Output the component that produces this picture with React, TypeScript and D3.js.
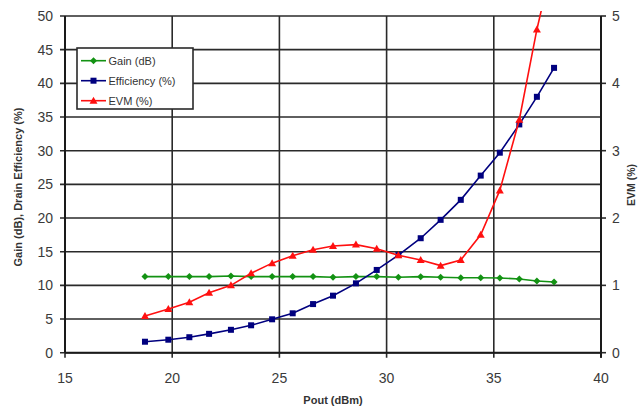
import React from "react";
import * as d3 from "d3";

const pout = [18.73, 19.82, 20.8, 21.72, 22.74, 23.68, 24.66, 25.62, 26.57, 27.5, 28.57, 29.54, 30.55, 31.59, 32.52, 33.46, 34.39, 35.28, 36.19, 37.01, 37.81];
const gain = [11.3, 11.3, 11.3, 11.3, 11.4, 11.3, 11.3, 11.3, 11.3, 11.2, 11.3, 11.3, 11.2, 11.29, 11.2, 11.14, 11.14, 11.1, 10.95, 10.65, 10.5];
const efficiency = [1.63, 1.93, 2.3, 2.8, 3.4, 4.07, 4.96, 5.85, 7.22, 8.47, 10.3, 12.29, 14.5, 17.0, 19.73, 22.7, 26.3, 29.7, 33.9, 38.0, 42.3];
const evm = [0.545, 0.65, 0.75, 0.89, 1.0, 1.18, 1.33, 1.44, 1.53, 1.585, 1.605, 1.545, 1.447, 1.377, 1.293, 1.377, 1.75, 2.41, 3.46, 4.8, 5.9];

const xTicks = [15, 20, 25, 30, 35, 40];
const yTicks = [0, 5, 10, 15, 20, 25, 30, 35, 40, 45, 50];
const y2Ticks = [0, 1, 2, 3, 4, 5];

const legendItems = [
  { label: "Gain (dB)", color: "#139213", shape: "diamond" },
  { label: "Efficiency (%)", color: "#00007f", shape: "square" },
  { label: "EVM (%)", color: "#ff1010", shape: "triangle" },
];

const L = 65, R = 601, T = 16, B = 352.7;
const font = "Liberation Sans, Arial, sans-serif";

function Marker({ shape, x, y, color }: { shape: string; x: number; y: number; color: string }) {
  if (shape === "square") return <rect x={x - 3} y={y - 3} width={6} height={6} fill={color} />;
  if (shape === "diamond") return <path d={`M${x},${y - 3.5}L${x + 3.5},${y}L${x},${y + 3.5}L${x - 3.5},${y}Z`} fill={color} />;
  return <path d={`M${x},${y - 4}L${x + 4},${y + 3}L${x - 4},${y + 3}Z`} fill={color} />;
}

export default function App() {
  const x = d3.scaleLinear().domain([15, 40]).range([L, R]);
  const y = d3.scaleLinear().domain([0, 50]).range([B, T]);
  const y2 = d3.scaleLinear().domain([0, 5]).range([B, T]);

  const lineY = d3.line<number>().x((_, i) => x(pout[i])).y((d) => y(d));
  const lineY2 = d3.line<number>().x((_, i) => x(pout[i])).y((d) => y2(d));

  const series = [
    { data: gain, path: lineY(gain), sc: y, ...legendItems[0] },
    { data: efficiency, path: lineY(efficiency), sc: y, ...legendItems[1] },
    { data: evm, path: lineY2(evm), sc: y2, ...legendItems[2] },
  ];

  return (
    <svg width={639} height={411} style={{ position: "fixed", left: 0, top: 0, background: "#fff" }}>
      <defs>
        <clipPath id="plotclip">
          <rect x={L} y={T - 5} width={R - L} height={B - T + 5} />
        </clipPath>
      </defs>
      <rect x={0} y={0} width={639} height={411} fill="#fff" />
      {/* grid */}
      {yTicks.map((t) => (
        <line key={"gy" + t} x1={L - 5} x2={R} y1={y(t)} y2={y(t)} stroke="#2a2a2a" strokeWidth={1.6} />
      ))}
      {xTicks.map((t) => (
        <line key={"gx" + t} x1={x(t)} x2={x(t)} y1={T} y2={B + 5} stroke="#2a2a2a" strokeWidth={1.6} />
      ))}
      {y2Ticks.map((t) => (
        <line key={"t2" + t} x1={R} x2={R + 5} y1={y2(t)} y2={y2(t)} stroke="#2a2a2a" strokeWidth={1.6} />
      ))}
      <line x1={L} x2={L} y1={T} y2={B} stroke="#1a1a1a" strokeWidth={2} />
      <line x1={R} x2={R} y1={T} y2={B + 5} stroke="#1a1a1a" strokeWidth={2} />
      <line x1={L} x2={R} y1={B} y2={B} stroke="#1a1a1a" strokeWidth={2} />

      {/* tick labels */}
      {yTicks.map((t) => (
        <text key={"ly" + t} x={53} y={y(t) + 5} textAnchor="end" fontFamily={font} fontSize={14} fill="#3a3a3a">{t}</text>
      ))}
      {y2Ticks.map((t) => (
        <text key={"ly2" + t} x={612} y={y2(t) + 5} textAnchor="start" fontFamily={font} fontSize={14} fill="#3a3a3a">{t}</text>
      ))}
      {xTicks.map((t) => (
        <text key={"lx" + t} x={x(t)} y={383} textAnchor="middle" fontFamily={font} fontSize={14} fill="#3a3a3a">{t}</text>
      ))}

      {/* axis titles */}
      <text x={333} y={404} textAnchor="middle" fontFamily={font} fontSize={11} fontWeight="bold" fill="#333">Pout (dBm)</text>
      <text transform={`translate(22,187) rotate(-90)`} textAnchor="middle" fontFamily={font} fontSize={11} fontWeight="bold" fill="#333">Gain (dB), Drain Efficiency (%)</text>
      <text transform={`translate(635,185) rotate(-90)`} textAnchor="middle" fontFamily={font} fontSize={10.5} fontWeight="bold" fill="#333">EVM (%)</text>

      {/* series */}
      <g clipPath="url(#plotclip)">
        {series.map((s) => (
          <g key={s.label}>
            <path d={s.path || ""} fill="none" stroke={s.color} strokeWidth={1.6} />
            {s.data.map((d, i) => (
              <Marker key={i} shape={s.shape} x={x(pout[i])} y={s.sc(d)} color={s.color} />
            ))}
          </g>
        ))}
      </g>

      {/* legend */}
      <rect x={77} y={48} width={116} height={61} fill="#fff" stroke="#2a2a2a" strokeWidth={1.6} />
      {legendItems.map((it, i) => {
        const ly = 60.7 + i * 20;
        return (
          <g key={it.label}>
            <line x1={81} x2={106} y1={ly} y2={ly} stroke={it.color} strokeWidth={1.6} />
            <Marker shape={it.shape} x={93.5} y={ly} color={it.color} />
            <text x={108.5} y={ly + 4} fontFamily={font} fontSize={11} fill="#333">{it.label}</text>
          </g>
        );
      })}
    </svg>
  );
}
